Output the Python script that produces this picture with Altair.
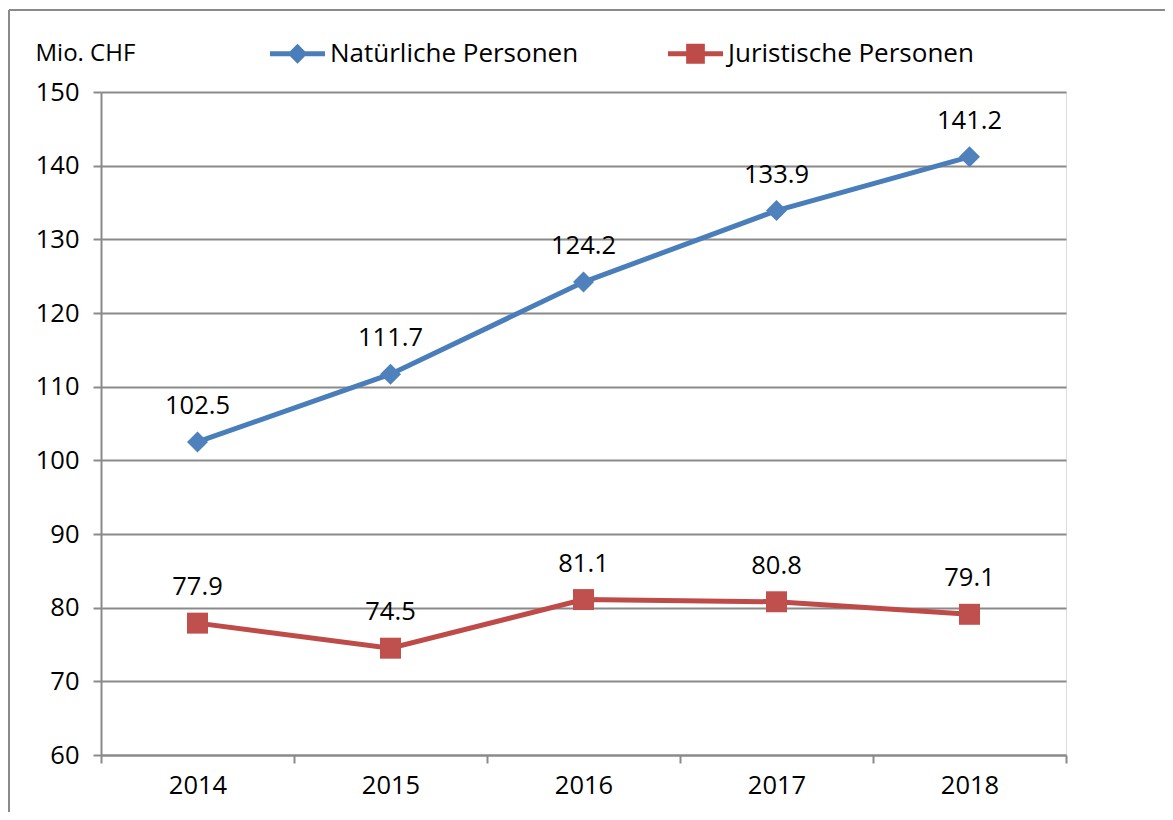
import altair as alt
import pandas as pd

# ---- data ----
years = ["2014", "2015", "2016", "2017", "2018"]
natuerliche = [102.5, 111.7, 124.2, 133.9, 141.2]
juristische = [77.9, 74.5, 81.1, 80.8, 79.1]
series_names = ["Natürliche Personen", "Juristische Personen"]
y_ticks = [60, 70, 80, 90, 100, 110, 120, 130, 140, 150]
y_title = "Mio. CHF"

rows = []
for name, vals in zip(series_names, [natuerliche, juristische]):
    for yr, v in zip(years, vals):
        rows.append({"Jahr": yr, "Serie": name, "Wert": v})
df = pd.DataFrame(rows)

# ---- styles ----
FONT = "Open Sans"
NUM_SIZE = 25.5
GRAY = "#8a8a8a"
line_colors = ["#4A7EBB", "#BE4B48"]
marker_colors = ["#4F81BD", "#C0504D"]
marker_shapes = ["diamond", "square"]
legend_paths = [
    "M-1,-0.09L-0.27,-0.09L0,-0.36L0.27,-0.09L1,-0.09L1,0.09L0.27,0.09L0,0.36L-0.27,0.09L-1,0.09Z",
    "M-1,-0.09L-0.34,-0.09L-0.34,-0.36L0.34,-0.36L0.34,-0.09L1,-0.09L1,0.09L0.34,0.09L0.34,0.36L-0.34,0.36L-0.34,0.09L-1,0.09Z",
]

W, H = 965, 663
PAD = {"left": 93, "top": 84, "right": 1157 - 93 - W, "bottom": 804 - 84 - H}

x_enc = alt.X(
    "Jahr:O",
    sort=years,
    scale=alt.Scale(type="band", paddingInner=0, paddingOuter=0),
    axis=alt.Axis(
        title=None, labelAngle=0, tickBand="extent", grid=False,
        domainColor=GRAY, domainWidth=2, tickColor=GRAY, tickWidth=2, tickSize=8,
        labelPadding=10, labelFont=FONT, labelFontSize=NUM_SIZE, labelColor="black",
    ),
)
y_enc = alt.Y(
    "Wert:Q",
    scale=alt.Scale(domain=[60, 150], nice=False, zero=False),
    axis=alt.Axis(
        values=y_ticks, title=y_title, titleAngle=0, titleAlign="left",
        titleBaseline="middle", titleX=-66, titleY=-39, titleFont=FONT,
        titleFontSize=24, titleFontWeight="normal", titleColor="black",
        grid=True, gridColor=GRAY, gridWidth=2,
        domainColor=GRAY, domainWidth=2, tickColor=GRAY, tickWidth=2, tickSize=8,
        labelPadding=14, labelFont=FONT, labelFontSize=NUM_SIZE, labelColor="black",
    ),
)

base = alt.Chart(df)

series_layers = []
for name, lcol, mcol, shp in zip(series_names, line_colors, marker_colors, marker_shapes):
    sub = base.transform_filter(alt.datum.Serie == name)
    series_layers.append(
        sub.mark_line(strokeWidth=5, color=lcol).encode(x=x_enc, y=y_enc)
    )
    series_layers.append(
        sub.mark_point(filled=True, opacity=1, size=440, strokeWidth=0, shape=shp, fill=mcol)
        .encode(x=x_enc, y=y_enc)
    )

legend = alt.Legend(
    orient="none", legendX=169, legendY=-66, direction="horizontal", title=None,
    symbolSize=3025, symbolStrokeWidth=0, symbolOpacity=1, labelFont=FONT,
    labelFontSize=26, labelColor="black", labelOffset=5, columnPadding=89,
    padding=0, labelLimit=500,
)
legend_layer = base.mark_point(filled=True, opacity=0).encode(
    x=x_enc, y=y_enc,
    color=alt.Color("Serie:N", scale=alt.Scale(domain=series_names, range=line_colors), legend=legend),
    shape=alt.Shape("Serie:N", scale=alt.Scale(domain=series_names, range=legend_paths), legend=legend),
)

labels = base.mark_text(dy=-36, font=FONT, fontSize=NUM_SIZE, color="black").encode(
    x=x_enc, y=y_enc, text=alt.Text("Wert:Q", format=".1f"),
)

frame_df = pd.DataFrame({"k": [0]})
frame_left = alt.Chart(frame_df).mark_rule(color=GRAY, strokeWidth=2).encode(
    x=alt.value(-92), y=alt.value(-82), y2=alt.value(H + 100)
)
frame_top = alt.Chart(frame_df).mark_rule(color=GRAY, strokeWidth=2).encode(
    x=alt.value(-92), x2=alt.value(W + 200), y=alt.value(-82)
)

chart = (
    alt.layer(frame_left, frame_top, *series_layers, legend_layer, labels)
    .properties(width=W, height=H, padding=PAD, autosize=alt.AutoSizeParams(type="none"))
    .configure_view(stroke=None)
    .configure(background="white")
)

chart.save("out.html", embed_options={"renderer": "svg", "actions": False})
